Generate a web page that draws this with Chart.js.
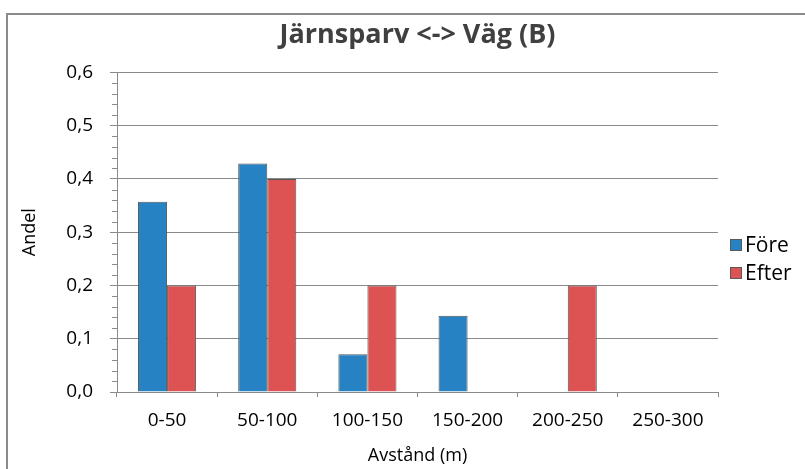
<!DOCTYPE html>
<html>
<head>
<meta charset="utf-8">
<script src="https://cdn.jsdelivr.net/npm/chart.js@4/dist/chart.umd.min.js"></script>
<style>
  html, body { margin: 0; padding: 0; background: #fff; }
  #wrap { width: 805px; height: 469px; position: relative; }
</style>
</head>
<body>
<div id="wrap"><canvas id="chart"></canvas></div>
<script>
// data
var categories = ['0-50', '50-100', '100-150', '150-200', '200-250', '250-300'];
var fore = [0.357, 0.429, 0.071, 0.143, 0, 0];
var efter = [0.2, 0.4, 0.2, 0, 0.2, 0];
var yTicks = [0, 0.1, 0.2, 0.3, 0.4, 0.5, 0.6];

var FONT = "'Open Sans', sans-serif";
var GRID = '#8a8a8a';

// frame, minor ticks and legend drawn by hand
var extras = {
    id: 'extras',
    beforeDraw: function(chart) {
        var ctx = chart.ctx;
        ctx.save();
        ctx.strokeStyle = GRID;
        ctx.lineWidth = 2;
        ctx.beginPath();
        ctx.moveTo(7, chart.height + 5);
        ctx.lineTo(7, 14);
        ctx.lineTo(chart.width + 5, 14);
        ctx.stroke();
        ctx.restore();
    },
    afterDraw: function(chart) {
        var ctx = chart.ctx;
        var y = chart.scales.y;
        ctx.save();
        ctx.strokeStyle = GRID;
        ctx.lineWidth = 1;
        for (var v = 0; v <= 60; v += 2) {
            if (v % 10 === 0) continue;
            var py = Math.round(y.getPixelForValue(v / 100)) + 0.5;
            ctx.beginPath();
            ctx.moveTo(y.right - 5, py);
            ctx.lineTo(y.right, py);
            ctx.stroke();
        }
        // legend
        var lx = 730, ly = [245, 273];
        chart.data.datasets.forEach(function(ds, i) {
            ctx.fillStyle = ds.backgroundColor;
            ctx.fillRect(lx, ly[i] - 6, 12, 12);
            ctx.strokeStyle = '#5a5a5a';
            ctx.strokeRect(lx + 0.5, ly[i] - 5.5, 11, 11);
            ctx.fillStyle = '#000';
            ctx.font = '21px ' + FONT;
            ctx.textBaseline = 'middle';
            ctx.fillText(ds.label, lx + 15, ly[i] + 1);
        });
        ctx.restore();
    }
};

var ctx = document.getElementById('chart').getContext('2d');
var chart = new Chart(ctx, {
    type: 'bar',
    data: {
        labels: categories,
        datasets: [{
            label: 'Före',
            data: fore,
            backgroundColor: '#2682c3',
            borderColor: '#555',
            borderWidth: 1,
            categoryPercentage: 0.58,
            barPercentage: 1
        }, {
            label: 'Efter',
            data: efter,
            backgroundColor: '#dd5252',
            borderColor: '#555',
            borderWidth: 1,
            categoryPercentage: 0.58,
            barPercentage: 1
        }]
    },
    options: {
        responsive: true,
        maintainAspectRatio: false,
        animation: false,
        layout: { padding: { left: 15, right: 87, top: 0, bottom: 0 } },
        plugins: {
            legend: { display: false },
            tooltip: { enabled: false },
            title: {
                display: true,
                fullSize: false,
                text: 'Järnsparv <-> Väg (B)',
                color: '#404040',
                font: { family: FONT, size: 27, weight: 'bold' },
                padding: { top: 19, bottom: 21 }
            }
        },
        scales: {
            x: {
                grid: { drawOnChartArea: false, tickLength: 5, color: GRID, offset: true },
                border: { color: GRID, width: 1 },
                ticks: { color: '#000', font: { family: FONT, size: 19 }, padding: 12 },
                title: {
                    display: true, text: 'Avstånd (m)', color: '#000',
                    font: { family: FONT, size: 18 }, padding: { top: 0, bottom: 2 }
                },
                afterFit: function(s) { s.height = 77; }
            },
            y: {
                min: 0, max: 0.6,
                afterBuildTicks: function(s) { s.ticks = yTicks.map(function(v) { return { value: v }; }); },
                grid: { color: GRID, tickLength: 7 },
                border: { color: GRID, width: 1 },
                ticks: {
                    color: '#000', padding: 17,
                    font: { family: FONT, size: 19 },
                    callback: function(v) { return v.toFixed(1).replace('.', ','); }
                },
                title: {
                    display: true, text: 'Andel', color: '#000',
                    font: { family: FONT, size: 18 }, padding: { top: 4, bottom: 4 }
                },
                afterFit: function(s) { s.width = 102; }
            }
        }
    },
    plugins: [extras]
});
</script>
</body>
</html>
